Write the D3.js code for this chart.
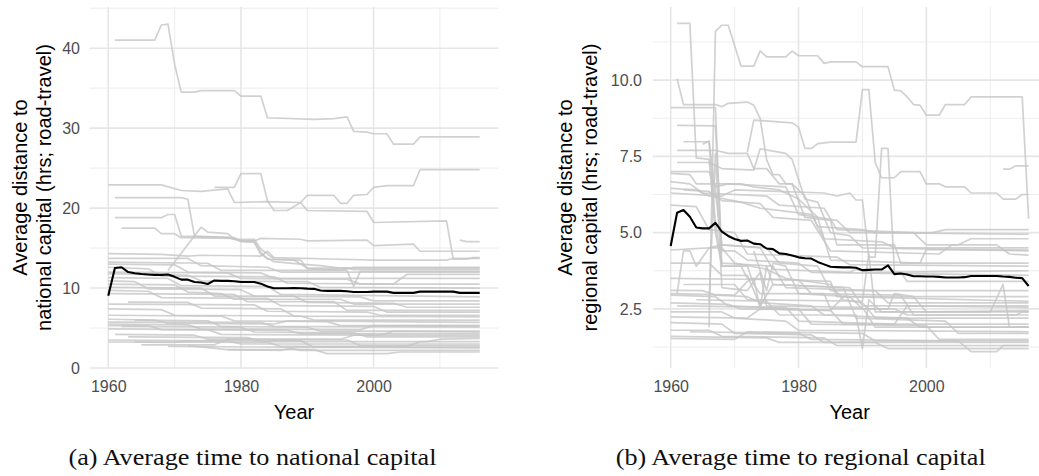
<!DOCTYPE html>
<html>
<head>
<meta charset="utf-8">
<script src="https://cdn.jsdelivr.net/npm/d3@7"></script>
<style>
  body { margin: 0; background: #fff; }
  text { font-family: "Liberation Sans", Arial, sans-serif; }
</style>
</head>
<body>
<div id="container"></div>
<script>
/* DATA */
const years = [1960, 1961, 1962, 1963, 1964, 1965, 1966, 1967, 1968, 1969,
               1970, 1971, 1972, 1973, 1974, 1975, 1976, 1977, 1978, 1979,
               1980, 1981, 1982, 1983, 1984, 1985, 1986, 1987, 1988, 1989,
               1990, 1991, 1992, 1993, 1994, 1995, 1996, 1997, 1998, 1999,
               2000, 2001, 2002, 2003, 2004, 2005, 2006, 2007, 2008, 2009,
               2010, 2011, 2012, 2013, 2014, 2015, 2016];

// yearly average across regions (black line)
const nationalMean = [9.05, 12.5, 12.6, 12.0, 11.85, 11.75, 11.7, 11.65, 11.65, 11.7,
                      11.4, 11.05, 11.05, 10.75, 10.7, 10.5, 10.95, 10.9, 10.9, 10.85,
                      10.75, 10.75, 10.75, 10.55, 10.2, 9.98, 9.98, 9.98, 10.0, 9.98,
                      9.93, 9.9, 9.7, 9.65, 9.65, 9.65, 9.6, 9.5, 9.5, 9.5,
                      9.55, 9.55, 9.55, 9.4, 9.4, 9.4, 9.4, 9.55, 9.55, 9.55,
                      9.55, 9.55, 9.55, 9.4, 9.4, 9.4, 9.4];

const regionalMean = [4.56, 5.65, 5.74, 5.52, 5.17, 5.14, 5.14, 5.32, 5.03, 4.89,
                      4.79, 4.73, 4.74, 4.64, 4.62, 4.48, 4.46, 4.32, 4.30, 4.25,
                      4.19, 4.16, 4.15, 4.04, 3.96, 3.88, 3.87, 3.86, 3.86, 3.85,
                      3.77, 3.78, 3.79, 3.79, 3.93, 3.64, 3.66, 3.63, 3.57, 3.57,
                      3.56, 3.56, 3.55, 3.53, 3.53, 3.53, 3.54, 3.58, 3.58, 3.58,
                      3.58, 3.58, 3.56, 3.55, 3.52, 3.51, 3.25];

// individual regions, [year, hours] at each visible corner of the line
const nationalSeries = [
  [[1961,41],[1967,41],[1968,42.9],[1969,43],[1970,38],[1971,34.5],[1973,34.5],[1974,34.7],[1979,34.7],[1980,34],[1983,34],[1984,31.3],[1991,31.1],[1994,31.2],[1996,31.4],[1997,29.6],[1999,29.5],[2000,29.3],[2002,29.3],[2003,28],[2006,28],[2007,28.9],[2016,28.9]],
  [[1960,22.9],[1968,22.9],[1971,22.2],[1974,22.1],[1978,22.4],[1979,20.7],[1984,20.8],[1989,20.7],[1990,19.7],[1999,19.6],[2000,18.2],[2011,18.4],[2012,13.6],[2014,13.6],[2015,13.8],[2016,13.8]],
  [[1976,22.6],[1979,22.6],[1980,24.3],[1983,24.3],[1984,20.9],[1985,19.7],[1987,19.7],[1989,20.7],[1990,21.6],[1994,21.6],[1995,20.6],[1996,20.6],[1997,21.6],[1999,21.7],[2000,22.6],[2002,22.8],[2006,22.8],[2007,24.8],[2016,24.8]],
  [[1961,21.3],[1971,21.3],[1972,21.1],[1973,16.5],[1979,16.3],[1980,15.9],[1982,15.9],[1983,14.5],[1984,13.6],[1988,13.5],[1990,12.5],[1996,12.5],[1997,12.3],[2016,12.3]],
  [[1961,18.8],[1968,18.8],[1969,19.2],[1970,19.2],[1971,16.5],[1978,16.3],[1980,15.9],[1982,15.9],[1983,16.2],[1989,16.1],[1990,15.9],[1999,16.0],[2000,15.3],[2006,15.5],[2007,14.6],[2016,14.6]],
  [[1962,17.5],[1967,17.5],[1968,16.8],[1970,16.8],[1971,16.3],[1979,16.2],[1980,15.8],[1982,15.7],[1983,14.2],[1985,13.3],[1989,13.0],[1992,12.8],[1995,12.5],[2016,12.5]],
  [[1969,12.2],[1974,17.6],[1975,17.0],[1978,16.8],[1979,16.1],[1982,16.1],[1983,14.9],[1985,13.6],[1989,13.5],[1990,12.4],[1996,12.2],[1997,10.2],[1998,12.1],[2016,12.1]],
  [[2013,16.0],[2014,15.8],[2016,15.8]],
  [[1960,14.3],[1968,14.2],[1972,14.0],[1974,14.1],[1983,14.0],[1984,14.6],[1985,13.8],[1995,13.6],[2000,13.5],[2011,13.5],[2012,13.7],[2016,13.7]],
  [[1960,13.7],[1972,13.7],[1974,12.8],[1984,12.6],[1986,12.0],[2016,12.0]],
  [[1960,13.25],[1975,13.1],[1977,12.2],[1995,12.2],[1997,12.6],[2016,12.6]],
  [[1960,13.0],[1970,12.9],[1972,12.0],[1983,11.9],[1985,11.2],[2016,11.2]],
  [[1960,12.6],[1966,12.4],[1968,11.5],[1985,11.4],[1987,10.6],[2003,10.5],[2005,11.7],[2016,11.7]],
  [[1960,11.8],[1972,11.6],[1974,10.9],[1990,10.8],[1992,10.1],[2016,10.0]],
  [[1960,11.3],[1969,11.2],[1971,10.3],[1984,10.2],[1986,9.2],[2016,8.9]],
  [[1960,10.9],[1964,10.8],[1966,9.9],[1980,9.8],[1982,9.0],[1998,8.9],[2000,8.4],[2016,8.4]],
  [[1960,10.5],[1970,10.4],[1972,9.5],[1977,9.3],[1979,8.6],[1995,8.6],[1997,8.0],[2016,8.0]],
  [[1960,10.1],[1974,10.0],[1976,9.0],[1988,9.0],[1990,8.2],[2003,8.1],[2005,7.6],[2016,7.6]],
  [[1960,9.7],[1966,9.6],[1968,8.8],[1984,8.7],[1986,7.8],[2000,7.7],[2002,7.0],[2016,7.0]],
  [[1960,9.3],[1979,9.2],[1981,8.3],[1994,8.3],[1996,7.2],[2016,7.2]],
  [[1963,8.25],[1972,8.2],[1974,7.5],[1986,7.4],[1988,6.5],[2016,6.4]],
  [[1960,8.0],[1982,7.9],[1984,7.1],[1999,7.0],[2001,6.6],[2016,6.6]],
  [[1960,7.4],[1968,7.3],[1970,6.6],[1989,6.5],[1991,6.0],[2016,6.0]],
  [[1960,6.6],[1977,6.5],[1979,5.9],[1993,5.8],[1995,5.3],[2016,5.3]],
  [[1960,6.1],[1967,6.0],[1969,5.6],[1985,5.5],[1987,5.9],[2016,5.7]],
  [[1964,6.0],[1975,5.9],[1977,5.2],[1990,5.1],[1992,4.6],[2016,4.6]],
  [[1960,5.75],[1983,5.7],[1985,5.2],[2016,5.1]],
  [[1960,5.5],[1972,5.4],[1974,4.9],[1998,4.8],[2000,5.3],[2016,5.3]],
  [[1960,5.3],[1966,5.3],[1968,4.8],[1987,4.7],[1989,4.3],[2016,4.3]],
  [[1962,5.2],[1980,5.1],[1982,4.5],[1997,4.4],[1999,3.9],[2016,3.9]],
  [[1960,4.9],[1975,4.8],[1977,4.2],[2001,4.1],[2003,4.6],[2016,4.5]],
  [[1961,4.2],[1973,4.1],[1975,3.6],[1995,3.6],[1997,4.1],[2016,4.1]],
  [[1963,3.9],[1981,3.8],[1983,3.3],[2008,3.3],[2010,3.6],[2016,3.7]],
  [[1960,3.5],[1978,3.4],[1980,3.0],[2016,3.0]],
  [[1960,3.25],[1970,3.2],[1972,3.4],[1989,3.4],[1991,2.6],[2016,2.6]],
  [[1964,3.25],[1984,3.2],[1986,2.7],[2005,2.7],[2007,3.3],[2016,3.3]],
  [[1965,2.9],[1976,2.9],[1978,3.6],[1996,3.5],[1998,2.8],[2016,2.8]],
  [[1969,2.7],[1987,2.6],[1989,2.2],[2016,2.2]],
  [[1972,2.8],[1978,2.3],[1991,2.3],[1993,1.8],[2002,1.8],[2004,2.0],[2016,2.0]],
  [[1978,2.3],[1986,2.2],[1988,2.6],[2016,2.5]],
  [[1960,12.0],[1978,11.9],[1980,11.2],[1996,11.1],[1998,10.5],[2016,10.5]]
];

const regionalSeries = [
  [[1961,11.86],[1963,11.86],[1964,7.45],[1966,7.4],[1967,5.0],[1968,3.9],[1972,3.9],[1973,3.3],[1974,3.0],[1984,3.0],[1985,2.5],[1995,2.5],[1997,2.3],[2016,2.3]],
  [[1966,1.9],[1967,11.6],[1968,11.8],[1969,11.8],[1971,10.46],[1973,10.46],[1974,10.96],[1975,10.76],[1978,10.76],[1979,10.95],[1980,10.8],[1983,10.8],[1984,10.55],[1985,10.6],[1989,10.6],[1990,10.44],[1994,10.44],[1995,9.67],[1996,9.65],[1997,9.45],[1998,9.2],[1999,9.18],[2000,8.85],[2002,8.85],[2003,9.2],[2006,9.2],[2007,9.45],[2015,9.45],[2016,5.46]],
  [[1961,10.05],[1962,9.2],[1967,9.2],[1968,9.13],[1969,9.24],[1972,9.28],[1973,9.18],[1974,8.74],[1975,7.4],[1976,6.9],[1977,6.9],[1978,6.6],[1979,6.6],[1981,5.5],[1985,5.4],[1986,4.6],[1995,4.6],[1996,4.0],[2016,4.0]],
  [[1960,9.1],[1967,9.1],[1968,3.9],[1971,3.9],[1972,3.5],[1985,3.4],[1986,2.9],[2016,2.9]],
  [[1972,7.65],[1973,8.69],[1979,8.6],[1980,8.46],[1981,7.76],[1982,7.76],[1983,7.92],[1985,7.97],[1989,7.97],[1990,9.69],[1991,9.69],[1992,7.3],[1993,6.8],[1995,6.8],[1996,7.0],[1999,7.0],[2000,6.6],[2002,6.6],[2003,6.5],[2006,6.5],[2007,6.3],[2011,6.3],[2012,6.1],[2014,6.1],[2015,6.25],[2016,6.25]],
  [[1960,6.3],[1968,6.2],[1970,6.4],[1984,6.3],[1986,6.2],[1988,6.3],[1989,6.07],[1990,6.07],[1991,4.2],[1992,4.2],[1993,7.76],[1994,7.76],[1995,3.7],[1996,3.7],[1997,3.4],[2016,3.4]],
  [[2012,7.08],[2013,7.08],[2014,7.19],[2016,7.19]],
  [[1961,8.52],[1967,8.5],[1968,4.4],[1970,4.4],[1972,4.1],[1980,4.0],[1982,3.7],[2016,3.6]],
  [[1962,7.98],[1966,7.98],[1967,5.3],[1968,4.0],[1976,3.9],[1978,3.2],[1992,3.1],[1994,2.7],[2016,2.7]],
  [[1961,7.7],[1967,7.7],[1969,7.6],[1972,7.6],[1973,7.1],[1975,7.1],[1977,6.6],[1979,6.6],[1981,6.2],[1983,5.2],[1990,5.1],[1992,5.0],[2016,4.95]],
  [[1961,7.3],[1966,7.3],[1968,7.1],[1973,7.05],[1974,7.75],[1978,7.6],[1979,7.4],[1981,6.1],[1983,6.0],[1985,5.0],[1988,4.9],[1990,4.5],[2016,4.4]],
  [[1960,6.94],[1963,6.9],[1964,6.6],[1971,6.6],[1973,6.5],[1977,6.4],[1980,6.1],[1983,5.5],[1986,5.4],[1988,5.0],[2001,5.0],[2003,5.1],[2016,5.1]],
  [[1960,6.67],[1963,6.6],[1965,6.3],[1975,6.2],[1977,5.9],[1984,5.8],[1986,5.1],[1998,5.0],[2000,4.6],[2005,4.6],[2007,4.8],[2016,4.8]],
  [[1960,6.45],[1964,6.4],[1966,6.2],[1971,6.0],[1974,5.8],[1982,5.6],[1984,4.8],[1993,4.7],[1995,4.5],[2016,4.5]],
  [[1962,6.4],[1966,6.35],[1968,6.05],[1974,5.95],[1976,5.5],[1982,5.4],[1985,4.4],[2002,4.3],[2004,4.6],[2011,4.6],[2013,4.3],[2016,4.26]],
  [[1960,7.0],[1966,7.0],[1967,6.5],[1969,6.6],[1978,6.5],[1980,5.6],[1983,5.5],[1985,4.1],[1999,4.0],[2000,4.45],[2016,4.43]],
  [[1960,5.9],[1964,5.85],[1966,5.1],[1970,5.0],[1972,4.3],[1986,4.2],[1988,3.95],[2016,3.9]],
  [[1965,7.9],[1966,8.0],[1967,6.3],[1968,4.6],[1974,4.5],[1976,3.8],[1988,3.7],[1989,3.8],[1991,3.7],[2016,3.75]],
  [[1960,4.43],[1966,4.5],[1968,4.6],[1975,4.5],[1977,4.0],[1983,3.9],[1985,3.1],[2016,3.1]],
  [[1961,3.0],[1962,4.4],[1963,4.4],[1964,3.9],[1966,4.5],[1968,4.5],[1970,4.0],[1975,3.8],[1978,3.5],[1985,3.3],[1987,2.8],[1990,2.7],[1992,2.2],[2016,2.2]],
  [[1960,4.0],[1966,4.0],[1968,3.6],[1972,3.6],[1974,2.6],[1976,3.3],[1987,3.2],[1989,2.2],[2003,2.1],[2005,1.7],[2016,1.7]],
  [[1973,4.4],[1975,3.1],[1976,4.0],[1978,3.9],[1980,3.0],[1988,2.9],[1990,2.5],[1994,2.5],[1995,3.0],[1998,2.9],[2000,2.4],[2016,2.44]],
  [[1960,3.5],[1980,3.45],[1982,3.0],[1996,2.95],[1998,2.3],[2014,2.3],[2015,2.4],[2016,2.4]],
  [[1962,3.3],[1970,3.3],[1972,2.8],[1990,2.75],[1991,4.3],[1992,2.4],[2010,2.4],[2012,3.3],[2013,1.9],[2016,1.9]],
  [[1960,3.11],[1965,3.1],[1967,2.95],[1972,2.9],[1974,2.7],[1982,2.6],[1984,2.3],[1997,2.2],[1999,1.9],[2016,1.9]],
  [[1960,3.0],[1970,2.95],[1972,3.4],[1973,3.5],[1974,2.5],[1975,3.9],[1976,3.3],[1988,3.2],[1990,2.6],[2016,2.6]],
  [[1960,2.95],[1967,2.9],[1969,2.6],[1980,2.5],[1982,2.0],[2000,1.95],[2002,1.5],[2016,1.5]],
  [[1960,2.7],[1969,2.65],[1971,2.5],[1985,2.45],[1987,2.9],[2016,2.75]],
  [[1961,2.6],[1978,2.55],[1980,2.1],[1995,2.0],[1997,2.6],[2016,2.55]],
  [[1964,2.8],[1975,2.75],[1977,2.3],[1989,2.3],[1990,1.2],[1991,2.8],[1993,2.4],[2016,2.4]],
  [[1966,2.7],[1967,7.6],[1968,3.2],[1972,3.1],[1974,3.7],[1975,2.6],[1990,2.55],[1992,1.9],[2016,1.9]],
  [[1960,2.4],[1968,2.4],[1970,2.2],[1978,2.1],[1980,1.8],[2016,1.75]],
  [[1960,2.24],[1972,2.2],[1974,2.5],[1985,2.45],[1987,2.0],[2016,2.0]],
  [[1960,2.05],[1968,2.0],[1970,1.7],[1982,1.65],[1984,1.4],[2016,1.4]],
  [[1960,1.8],[1966,1.8],[1968,1.6],[1984,1.55],[1986,1.3],[2016,1.3]],
  [[1960,1.6],[1975,1.55],[1977,1.4],[1992,1.4],[1994,1.2],[2016,1.2]],
  [[1960,1.53],[1970,1.5],[1972,1.75],[1990,1.7],[1992,1.45],[2016,1.45]],
  [[1963,1.75],[1980,1.7],[1982,1.5],[2005,1.45],[2007,1.1],[2011,1.1],[2012,1.3],[2016,1.3]]
];

/* TICKS AND LABELS */
const yearTicks = [1960, 1980, 2000];
const yearMinor = [1970, 1990, 2010];
const nationalTicks = [0, 10, 20, 30, 40];
const nationalMinor = [5, 15, 25, 35, 45];
const regionalTicks = [2.5, 5.0, 7.5, 10.0];
const regionalMinor = [1.25, 3.75, 6.25, 8.75, 11.25];
const xTitle = "Year";
const nationalTitle = ["Average distance to", "national capital (hrs; road-travel)"];
const regionalTitle = ["Average distance to", "regional capital (hrs; road-travel)"];
const captions = ["(a) Average time to national capital", "(b) Average time to regional capital"];

/* CONSTANTS */
const width = 1039, height = 476;
const panelTop = 7, panelBottom = 368;

const svg = d3.select("#container").append("svg")
  .attr("width", width)
  .attr("height", height);

// ggplot-like 5% padding
function expand(lo, hi) {
  const pad = (hi - lo) * 0.05;
  return [lo - pad, hi + pad];
}

function drawPanel(p) {
  const allVals = p.series.flat().map(d => d[1]).concat(p.mean);
  const yDomain = p.fromZero
    ? [0, expand(0, d3.max(allVals))[1]]
    : expand(d3.min(allVals), d3.max(allVals));

  const x = d3.scaleLinear().domain(expand(years[0], years[years.length - 1])).range([p.left, p.right]);
  const y = d3.scaleLinear().domain(yDomain).range([panelBottom, panelTop]);

  const g = svg.append("g");

  /* GRID */
  const grid = g.append("g");
  grid.selectAll(".hminor").data(p.minorY.filter(v => v >= yDomain[0] && v <= yDomain[1]))
    .join("line")
      .attr("x1", p.left).attr("x2", p.right)
      .attr("y1", d => y(d)).attr("y2", d => y(d))
      .attr("stroke", "#ebebeb").attr("stroke-width", 0.9);
  grid.selectAll(".vminor").data(yearMinor)
    .join("line")
      .attr("x1", d => x(d)).attr("x2", d => x(d))
      .attr("y1", panelTop).attr("y2", panelBottom)
      .attr("stroke", "#ebebeb").attr("stroke-width", 0.9);
  grid.selectAll(".hmajor").data(p.ticksY)
    .join("line")
      .attr("x1", p.left).attr("x2", p.right)
      .attr("y1", d => y(d)).attr("y2", d => y(d))
      .attr("stroke", "#e6e6e6").attr("stroke-width", 1.6);
  grid.selectAll(".vmajor").data(yearTicks)
    .join("line")
      .attr("x1", d => x(d)).attr("x2", d => x(d))
      .attr("y1", panelTop).attr("y2", panelBottom)
      .attr("stroke", "#e6e6e6").attr("stroke-width", 1.6);

  /* LINES */
  const line = d3.line().x(d => x(d[0])).y(d => y(d[1]));
  g.append("g").selectAll("path").data(p.series)
    .join("path")
      .attr("d", line)
      .attr("fill", "none")
      .attr("stroke", "#c6c6c6")
      .attr("stroke-opacity", 0.8)
      .attr("stroke-width", 1.7)
      .attr("stroke-linejoin", "round");

  g.append("path")
    .datum(years.map((yr, i) => [yr, p.mean[i]]))
    .attr("d", line)
    .attr("fill", "none")
    .attr("stroke", "#000")
    .attr("stroke-width", 2.1)
    .attr("stroke-linejoin", "round");

  /* AXES */
  const xAxis = g.append("g")
    .attr("transform", `translate(0,${panelBottom})`)
    .call(d3.axisBottom(x).tickValues(yearTicks).tickSize(0).tickPadding(12.5).tickFormat(d3.format("d")));
  const yAxis = g.append("g")
    .attr("transform", `translate(${p.left},0)`)
    .call(d3.axisLeft(y).tickValues(p.ticksY).tickSize(0).tickPadding(p.labelPad).tickFormat(p.format));
  [xAxis, yAxis].forEach(a => {
    a.select(".domain").remove();
    a.selectAll("text")
      .attr("fill", "#4d4d4d")
      .style("font-size", "16px")
      .style("font-family", "'Liberation Sans', Arial, sans-serif");
  });

  /* TITLES */
  g.append("text")
    .attr("x", (p.left + p.right) / 2)
    .attr("y", 418.5)
    .attr("text-anchor", "middle")
    .attr("font-size", 20)
    .attr("fill", "#000")
    .text(xTitle);

  const mid = (panelTop + panelBottom) / 2;
  p.title.forEach((t, i) => {
    g.append("text")
      .attr("transform", `translate(${p.titleX[i]},${mid}) rotate(-90)`)
      .attr("text-anchor", "middle")
      .attr("font-size", 20)
      .attr("fill", "#000")
      .text(t);
  });

  svg.append("text")
    .attr("x", p.captionX)
    .attr("y", 465)
    .attr("text-anchor", "middle")
    .attr("font-size", 24)
    .attr("textLength", p.captionW)
    .attr("lengthAdjust", "spacingAndGlyphs")
    .style("font-family", "'Liberation Serif', 'DejaVu Serif', serif")
    .attr("fill", "#111")
    .text(p.caption);
}

drawPanel({
  series: nationalSeries, mean: nationalMean, fromZero: true,
  left: 89.7, right: 498.3,
  ticksY: nationalTicks, minorY: nationalMinor, labelPad: 9.7, format: d3.format("d"),
  title: nationalTitle, titleX: [27, 50.5],
  caption: captions[0], captionX: 252.5, captionW: 368
});

drawPanel({
  series: regionalSeries, mean: regionalMean, fromZero: false,
  left: 652.8, right: 1046.5,
  ticksY: regionalTicks, minorY: regionalMinor, labelPad: 10.8, format: d3.format(".1f"),
  title: regionalTitle, titleX: [572, 597],
  caption: captions[1], captionX: 800.7, captionW: 370
});
</script>
</body>
</html>
